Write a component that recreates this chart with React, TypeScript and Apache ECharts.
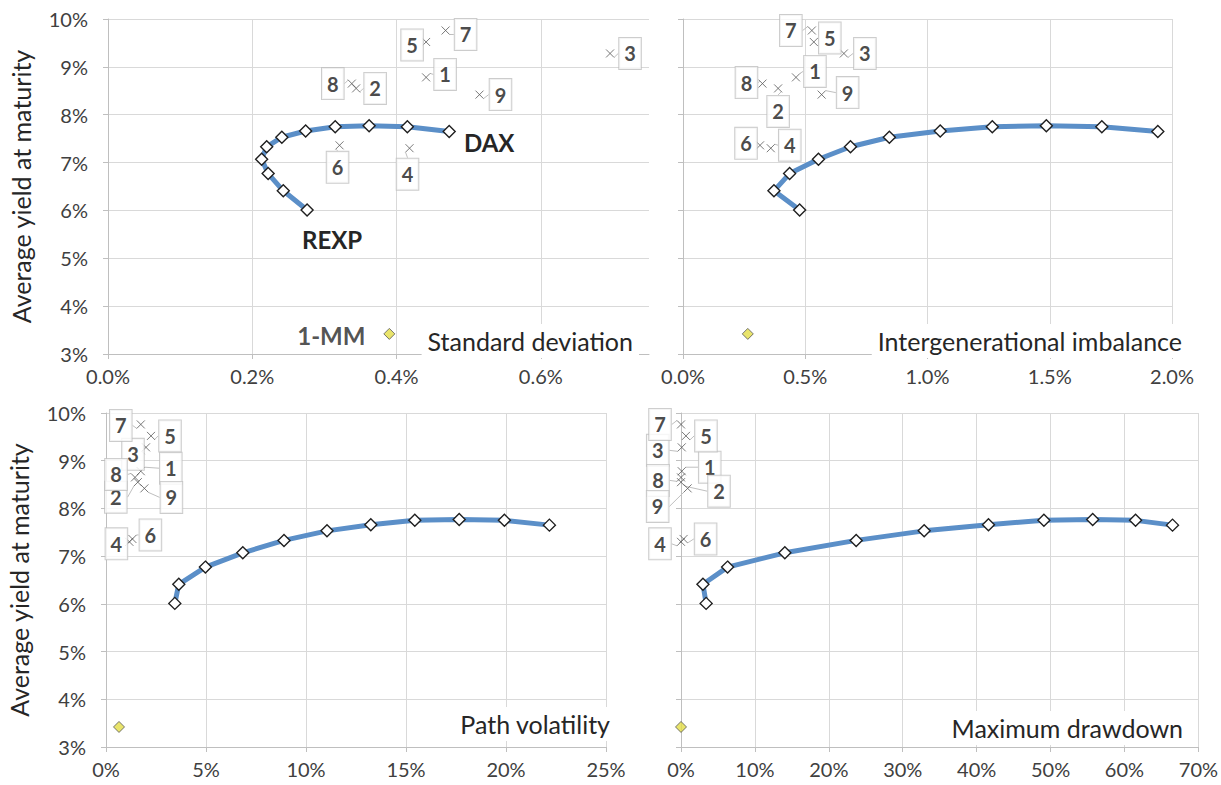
import React, { useEffect, useRef } from 'react';
import * as echarts from 'echarts';

// Efficient frontier (REXP -> DAX), average yield at maturity in %
const frontierYield = [6.01, 6.41, 6.77, 7.07, 7.33, 7.53, 7.66, 7.75, 7.77, 7.75, 7.65];
const frontierSD = [0.276, 0.243, 0.222, 0.213, 0.22, 0.241, 0.274, 0.315, 0.362, 0.415, 0.473];
const frontierIGI = [0.477, 0.372, 0.436, 0.554, 0.685, 0.844, 1.052, 1.265, 1.486, 1.713, 1.942];
const frontierPV = [3.44, 3.64, 4.97, 6.84, 8.9, 11.05, 13.24, 15.44, 17.66, 19.92, 22.17];
const frontierMDD = [3.4, 2.97, 6.3, 14.05, 23.7, 32.9, 41.6, 49.1, 55.7, 61.5, 66.5];

// Numbered portfolios 1..9
const portfolioIds = ['1', '2', '3', '4', '5', '6', '7', '8', '9'];
const portfolioYield = [8.78, 8.55, 9.28, 7.3, 9.52, 7.36, 9.76, 8.65, 8.42];
const portfolioSD = [0.441, 0.344, 0.696, 0.418, 0.441, 0.321, 0.468, 0.338, 0.515];
const portfolioIGI = [0.462, 0.389, 0.658, 0.359, 0.535, 0.315, 0.527, 0.325, 0.567];
const portfolioPV = [1.74, 1.59, 2.0, 1.17, 2.25, 1.32, 1.74, 1.45, 1.92];
const portfolioMDD = [0.1, 0.0, 0.1, 0.0, 0.67, 0.35, 0.0, 0.0, 0.9];

// 1-MM (money market)
const mmYield = 3.42;
const mmSD = 0.39;
const mmIGI = 0.265;
const mmPV = 0.65;
const mmMDD = 0.0;

const yTicks = { min: 3, max: 10, interval: 1 };
const panelTitles = ['Standard deviation', 'Intergenerational imbalance', 'Path volatility', 'Maximum drawdown'];

// callout offsets (px) for labels 1..9 in each panel
const calloutOffsets = [
  [[19, -3], [19, 0], [20, 0], [-2, 26], [-14, 3], [-2, 22], [20, 4], [-19, 0], [21, 0]],
  [[19, -6], [0, 23], [21, 0], [19, -3], [16, -4], [-14, -2], [-21, 0], [-16, -1], [26, -2]],
  [[30, -3], [-22, 15], [-13, 7], [-13, 2], [19, 0], [18, -4], [-20, 1], [-19, -3], [27, 9]],
  [[28, -4], [38, 9], [-24, 3], [-21, 2], [20, 0], [22, 0], [-21, 0], [-23, 3], [-30, 18]],
];

// panel title placement: right edge relative to grid right, vertical centre relative to grid bottom
const titleAnchor = [[-10, -13], [16, -13], [10, -23], [-15, -19]];

const FONT = 'Lato, "Open Sans", sans-serif';
const TXT = '#262626';
const GRIDC = '#d9d9d9';
const AXISC = '#bfbfbf';

const grids = [
  { left: 108, top: 19, width: 541, height: 335 },
  { left: 683, top: 19, width: 489, height: 335 },
  { left: 106, top: 413, width: 500, height: 334 },
  { left: 681, top: 413, width: 523, height: 334 },
];

export default function App() {
  const ref = useRef<HTMLDivElement>(null);
  useEffect(() => {
    if (!ref.current) return;
    const chart = echarts.init(ref.current, undefined, { renderer: 'svg' });

    const panels = [
      { fx: frontierSD, px: portfolioSD, mx: mmSD, max: 0.75, interval: 0.2, dec: 1 },
      { fx: frontierIGI, px: portfolioIGI, mx: mmIGI, max: 2.0, interval: 0.5, dec: 1 },
      { fx: frontierPV, px: portfolioPV, mx: mmPV, max: 25, interval: 5, dec: 0 },
      { fx: frontierMDD, px: portfolioMDD, mx: mmMDD, max: 70, interval: 10, dec: 0 },
    ];

    const xAxis: any[] = [];
    const yAxis: any[] = [];
    const series: any[] = [];
    const graphic: any[] = [];

    panels.forEach((p, i) => {
      const g = grids[i];
      xAxis.push({
        type: 'value', gridIndex: i, min: 0, max: p.max, interval: p.interval,
        axisLine: { show: true, lineStyle: { color: AXISC, width: 1 } },
        axisTick: { show: true, length: 5, lineStyle: { color: AXISC } },
        splitLine: { show: true, lineStyle: { color: GRIDC, width: 1 }, showMaxLine: i !== 0 },
        axisLabel: {
          fontFamily: FONT, fontSize: 20, color: '#404040', margin: 12,
          showMaxLabel: i !== 0,
          formatter: (v: number) => v.toFixed(p.dec) + '%',
        },
      });
      yAxis.push({
        type: 'value', gridIndex: i, ...yTicks,
        axisLine: { show: true, lineStyle: { color: AXISC, width: 1 } },
        axisTick: { show: true, length: 5, lineStyle: { color: AXISC } },
        splitLine: { show: true, lineStyle: { color: GRIDC, width: 1 } },
        axisLabel: {
          show: i % 2 === 0, fontFamily: FONT, fontSize: 20, color: '#404040', margin: 20,
          formatter: (v: number) => v + '%',
        },
        name: i % 2 === 0 ? 'Average yield at maturity' : '',
        nameLocation: 'middle', nameGap: 75,
        nameTextStyle: { fontFamily: FONT, fontSize: 25, color: TXT },
      });

      const bigLabel = (text: string, off: number[]) => ({
        show: true, position: 'inside', offset: off, formatter: text,
        fontFamily: FONT, fontSize: 24, fontWeight: 'bold', color: TXT,
      });

      series.push({
        type: 'line', xAxisIndex: i, yAxisIndex: i, z: 3,
        symbol: 'diamond', symbolSize: 12,
        lineStyle: { color: '#5b8fc8', width: 5 },
        itemStyle: { color: '#ffffff', borderColor: '#1f1f1f', borderWidth: 1.4 },
        data: p.fx.map((x, k) => {
          const item: any = { value: [x, frontierYield[k]] };
          if (i === 0 && k === 0) item.label = bigLabel('REXP', [25, 30]);
          if (i === 0 && k === p.fx.length - 1) item.label = bigLabel('DAX', [40, 11]);
          return item;
        }),
      });

      const offs = calloutOffsets[i];
      series.push({
        type: 'scatter', xAxisIndex: i, yAxisIndex: i, z: 5,
        symbol: 'path://M0,0L10,10M10,0L0,10', symbolSize: 8,
        itemStyle: { color: 'transparent', borderColor: '#595959', borderWidth: 1 },
        data: p.px.map((x, k) => ({ name: portfolioIds[k], value: [x, portfolioYield[k]] })),
        label: {
          show: true, position: 'inside', formatter: '{b}',
          fontFamily: FONT, fontSize: 20, fontWeight: 'bold', color: '#1a1a1a',
          backgroundColor: '#ffffff', borderColor: AXISC, borderWidth: 1,
          padding: [6, 5, 5, 5],
        },
        labelLine: { show: true, lineStyle: { color: AXISC, width: 1 } },
        labelLayout: (params: any) => ({
          dx: offs[params.dataIndex][0], dy: offs[params.dataIndex][1],
        }),
      });

      series.push({
        type: 'scatter', xAxisIndex: i, yAxisIndex: i, z: 4,
        symbol: 'diamond', symbolSize: 11,
        itemStyle: { color: '#e3dd46', borderColor: '#555555', borderWidth: 1 },
        data: [{
          name: '1-MM', value: [p.mx, mmYield],
          label: i === 0 ? bigLabel('1-MM', [-58, 2]) : { show: false },
        }],
      });

      graphic.push({
        type: 'text', z: 10,
        x: g.left + g.width + titleAnchor[i][0],
        y: g.top + g.height + titleAnchor[i][1],
        style: {
          text: panelTitles[i], font: `25px ${FONT}`, fill: TXT,
          align: 'right', verticalAlign: 'middle',
          backgroundColor: '#ffffff', padding: [3, 6, 6, 6],
        },
      });
    });

    chart.setOption({
      animation: false,
      backgroundColor: '#ffffff',
      grid: grids.map((g) => ({ ...g, containLabel: false })),
      xAxis, yAxis, series, graphic,
    });
    return () => chart.dispose();
  }, []);

  return (
    <div
      ref={ref}
      style={{ position: 'fixed', left: 0, top: 0, width: 1221, height: 785, background: '#fff' }}
    />
  );
}
